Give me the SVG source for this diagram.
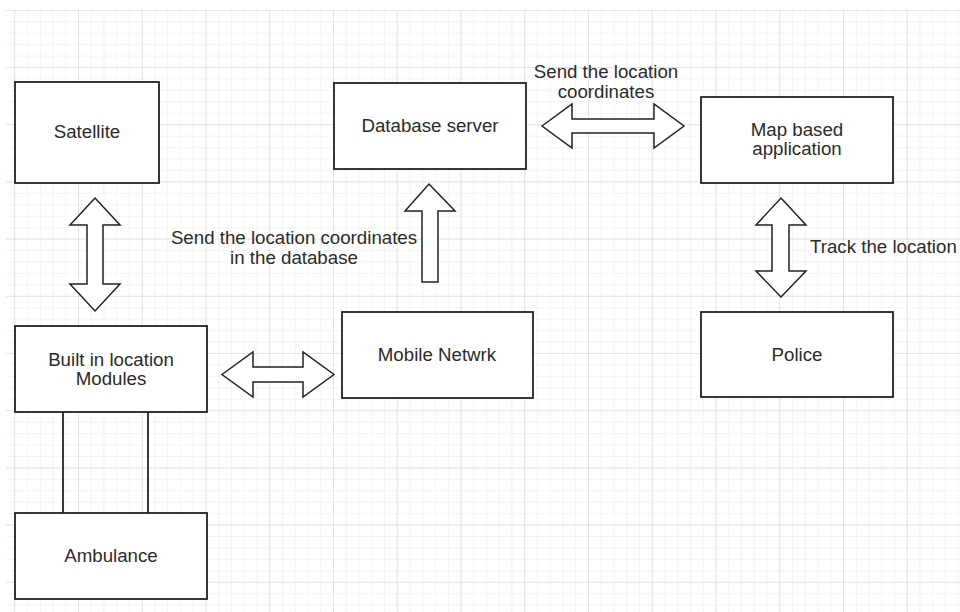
<svg xmlns="http://www.w3.org/2000/svg" width="960" height="612" viewBox="0 0 960 612">
  <defs>
    <pattern id="minor" x="14.25" y="9.8" width="12.75" height="11.44" patternUnits="userSpaceOnUse">
      <path d="M0 0 V11.44 M0 0 H12.75" fill="none" stroke="#e9e9e9" stroke-width="1"/>
    </pattern>
    <pattern id="major" x="14.25" y="9.8" width="63.75" height="57.2" patternUnits="userSpaceOnUse">
      <path d="M0 0 V57.2 M0 0 H63.75" fill="none" stroke="#d4d4d4" stroke-width="1"/>
    </pattern>
  </defs>
  <style>
    .box { fill: #ffffff; stroke: #222222; stroke-width: 1.8; }
    .arrow { fill: #ffffff; stroke: #222222; stroke-width: 1.5; stroke-linejoin: miter; }
    .link { fill: none; stroke: #222222; stroke-width: 1.8; }
    text { font-family: "Liberation Sans", Arial, sans-serif; font-size: 18.7px; fill: #2b2b2b; }
    .c { text-anchor: middle; }
  </style>
  <rect x="0" y="0" width="960" height="612" fill="#ffffff"/>
  <rect x="6" y="10" width="954" height="602" fill="url(#minor)"/>
  <rect x="6" y="10" width="954" height="602" fill="url(#major)"/>

  <g id="connectors">
    <polygon class="arrow" points="95,198 120,225 103,225 103,284 120,284 95,311 70,284 87,284 87,225 70,225"/>
    <polygon class="arrow" points="429,184 455,211 438,211 438,282 422,282 422,211 405,211"/>
    <polygon class="arrow" points="542,126 572,104 572,119 654,119 654,104 684,126 654,148 654,133 572,133 572,148"/>
    <polygon class="arrow" points="781,198 806,225 789,225 789,271 806,271 781,297 756,271 772,271 772,225 756,225"/>
    <polygon class="arrow" points="222,374.5 253,352 253,367 303,367 303,352 334,374.5 303,397 303,382 253,382 253,397"/>
    <line class="link" x1="63" y1="412" x2="63" y2="513"/>
    <line class="link" x1="148" y1="412" x2="148" y2="513"/>
    <text class="c" x="606" y="78">Send the location</text>
    <text class="c" x="606" y="98">coordinates</text>
    <text class="c" x="294" y="244">Send the location coordinates</text>
    <text class="c" x="294" y="264">in the database</text>
    <text x="810" y="253">Track the location</text>
  </g>

  <g id="satellite">
    <rect class="box" x="15" y="82" width="144" height="101"/>
    <text class="c" x="87" y="138">Satellite</text>
  </g>
  <g id="database-server">
    <rect class="box" x="334" y="83" width="192" height="86"/>
    <text class="c" x="430" y="132">Database server</text>
  </g>
  <g id="map-app">
    <rect class="box" x="701" y="97" width="192" height="86"/>
    <text class="c" x="797" y="136">Map based</text>
    <text class="c" x="797" y="155">application</text>
  </g>
  <g id="modules">
    <rect class="box" x="15" y="326" width="192" height="86"/>
    <text class="c" x="111" y="366">Built in location</text>
    <text class="c" x="111" y="385">Modules</text>
  </g>
  <g id="mobile-network">
    <rect class="box" x="342" y="312" width="191" height="86"/>
    <text class="c" x="437" y="361">Mobile Netwrk</text>
  </g>
  <g id="police">
    <rect class="box" x="701" y="312" width="192" height="85"/>
    <text class="c" x="797" y="361">Police</text>
  </g>
  <g id="ambulance">
    <rect class="box" x="15" y="513" width="192" height="86"/>
    <text class="c" x="111" y="562">Ambulance</text>
  </g>
</svg>
